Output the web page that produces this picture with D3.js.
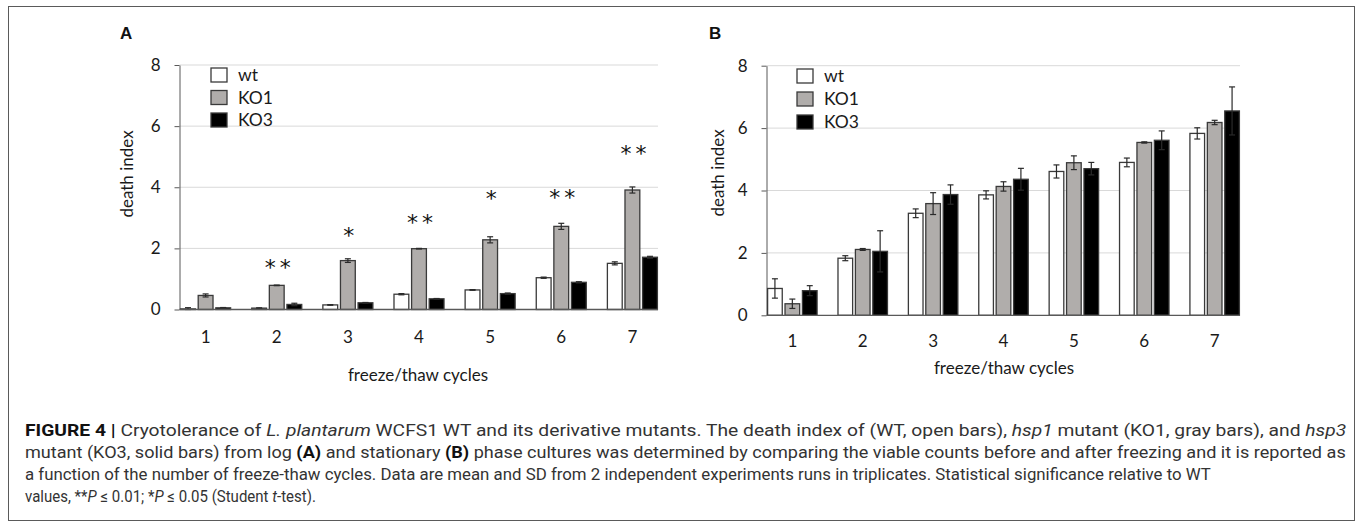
<!DOCTYPE html>
<html>
<head>
<meta charset="utf-8">
<script src="https://cdn.jsdelivr.net/npm/d3@7"></script>
<style>
  body { margin: 0; background: #fff; }
  svg text { font-family: Lato, "Open Sans", sans-serif; }
  .cap text { font-family: Roboto, "Liberation Sans", sans-serif; white-space: pre; }
</style>
</head>
<body>
<svg id="fig" width="1360" height="525"></svg>
<script>
// ---- data ----
const cycles = ["1", "2", "3", "4", "5", "6", "7"];
const seriesNames = ["wt", "KO1", "KO3"];
const yTicks = [0, 2, 4, 6, 8];

// log-phase cultures (A)
const logWt     = [0.02, 0.045, 0.15, 0.50, 0.64, 1.04, 1.51];
const logWtSd   = [0.04, 0.01, 0.01, 0.02, 0.01, 0.02, 0.05];
const logKo1    = [0.46, 0.79, 1.60, 1.99, 2.28, 2.72, 3.91];
const logKo1Sd  = [0.05, 0.01, 0.06, 0.01, 0.10, 0.10, 0.10];
const logKo3    = [0.055, 0.165, 0.22, 0.35, 0.52, 0.89, 1.71];
const logKo3Sd  = [0.01, 0.04, 0.01, 0.01, 0.02, 0.02, 0.03];
const logSig      = ["", "**", "*", "**", "*", "**", "**"];
const logSigLevel = [null, 1.52, 2.57, 2.99, 3.78, 3.81, 5.25];

// stationary-phase cultures (B)
const statWt    = [0.86, 1.83, 3.27, 3.86, 4.61, 4.90, 5.83];
const statWtSd  = [0.31, 0.08, 0.14, 0.13, 0.21, 0.14, 0.18];
const statKo1   = [0.37, 2.11, 3.58, 4.13, 4.89, 5.54, 6.18];
const statKo1Sd = [0.15, 0.03, 0.35, 0.15, 0.22, 0.02, 0.07];
const statKo3   = [0.79, 2.05, 3.87, 4.36, 4.70, 5.61, 6.55];
const statKo3Sd = [0.16, 0.66, 0.31, 0.35, 0.20, 0.30, 0.77];

const fills = { wt: "#ffffff", KO1: "#b0adab", KO3: "#000000" };
const svg = d3.select("#fig");

// outer frame
svg.append("rect")
  .attr("x", 8.5).attr("y", 6.5).attr("width", 1346).attr("height", 514)
  .attr("fill", "none").attr("stroke", "#5a5a5a").attr("stroke-width", 1);

function drawPanel(cfg) {
  const g = svg.append("g");
  const rows = cycles.map((c, i) => ({
    cycle: c,
    vals: [
      { key: "wt",  v: cfg.wt[i],  sd: cfg.wtSd[i] },
      { key: "KO1", v: cfg.ko1[i], sd: cfg.ko1Sd[i] },
      { key: "KO3", v: cfg.ko3[i], sd: cfg.ko3Sd[i] }
    ]
  }));

  const x = d3.scaleBand().domain(cycles).range([cfg.x0, cfg.x1])
    .paddingInner(0.28).paddingOuter(0);
  const xs = d3.scaleBand().domain(seriesNames).range([0, x.bandwidth()])
    .paddingInner(0.09);
  const y = d3.scaleLinear().domain([0, 8]).range([cfg.yBase, cfg.yTop]);

  // gridlines
  g.append("g").selectAll("line").data(yTicks.filter(d => d > 0)).join("line")
    .attr("x1", cfg.axisX).attr("x2", cfg.x1)
    .attr("y1", d => y(d)).attr("y2", d => y(d))
    .attr("stroke", "#d9d9d9").attr("stroke-width", 1);

  // y axis
  const ya = g.append("g").attr("transform", `translate(${cfg.axisX},0)`)
    .call(d3.axisLeft(y).tickValues(yTicks).tickSize(5).tickSizeOuter(0).tickPadding(14));
  ya.select(".domain").attr("stroke", "#595959");
  ya.selectAll(".tick line").attr("stroke", "#595959");
  ya.selectAll(".tick text").attr("font-size", 17).attr("fill", "#1a1a1a");

  // bars
  const grp = g.append("g").selectAll("g").data(rows).join("g")
    .attr("transform", d => `translate(${x(d.cycle)},0)`);
  grp.selectAll("rect").data(d => d.vals).join("rect")
    .attr("x", d => xs(d.key) + 0.6)
    .attr("width", xs.bandwidth() - 1.2)
    .attr("y", d => y(d.v))
    .attr("height", d => y(0) - y(d.v))
    .attr("fill", d => fills[d.key])
    .attr("stroke", "#3a3a3a").attr("stroke-width", 1.3);

  // error bars
  const eb = grp.selectAll("g.err").data(d => d.vals).join("g").attr("class", "err")
    .attr("transform", d => `translate(${xs(d.key) + xs.bandwidth() / 2},0)`)
    .attr("stroke", "#2a2a2a").attr("stroke-width", 1.2);
  eb.append("line").attr("x1", 0).attr("x2", 0)
    .attr("y1", d => y(Math.max(0, d.v - d.sd))).attr("y2", d => y(d.v + d.sd));
  eb.append("line").attr("x1", -3).attr("x2", 3)
    .attr("y1", d => y(d.v + d.sd)).attr("y2", d => y(d.v + d.sd));
  eb.append("line").attr("x1", -3).attr("x2", 3)
    .attr("y1", d => y(Math.max(0, d.v - d.sd))).attr("y2", d => y(Math.max(0, d.v - d.sd)));

  // x axis baseline + labels
  const xa = g.append("g").attr("transform", `translate(0,${cfg.yBase})`)
    .call(d3.axisBottom(x).tickSize(0).tickPadding(cfg.xPad));
  xa.select(".domain").attr("stroke", "#595959").attr("stroke-width", 1.3)
    .attr("d", `M${cfg.axisX},0H${cfg.x1}`);
  xa.selectAll(".tick text").attr("font-size", 17).attr("fill", "#1a1a1a");

  // significance marks
  if (cfg.sig) {
    g.append("g").selectAll("text").data(cycles.map((c, i) => ({ c, s: cfg.sig[i], l: cfg.sigLevel[i] }))
      .filter(d => d.s)).join("text")
      .attr("x", d => x(d.c) + x.bandwidth() / 2 + 3)
      .attr("y", d => y(d.l) + 12)
      .attr("text-anchor", "middle")
      .style("font-family", "'DejaVu Sans', sans-serif")
      .attr("font-size", 22).attr("letter-spacing", 4).attr("fill", "#111")
      .text(d => d.s);
  }

  // axis titles
  g.append("text").attr("x", cfg.xTitleX).attr("y", cfg.xTitleY)
    .attr("text-anchor", "middle").attr("font-size", 17).attr("fill", "#1a1a1a")
    .text("freeze/thaw cycles");
  g.append("text")
    .attr("transform", `translate(${cfg.yTitleX},${cfg.yTitleY}) rotate(-90)`)
    .attr("text-anchor", "middle").attr("font-size", 17).attr("fill", "#1a1a1a")
    .text("death index");

  // legend
  const lg = g.append("g").selectAll("g").data(seriesNames).join("g")
    .attr("transform", (d, i) => `translate(${cfg.legX},${cfg.legY + i * cfg.legStep})`);
  lg.append("rect").attr("x", 0).attr("y", -7).attr("width", 16).attr("height", 14)
    .attr("fill", d => fills[d]).attr("stroke", "#3a3a3a").attr("stroke-width", 1.3);
  lg.append("text").attr("x", 27).attr("y", 6).attr("font-size", 17.5).attr("fill", "#1a1a1a")
    .text(d => d);

  // panel letter
  g.append("text").attr("x", cfg.letterX).attr("y", 39)
    .style("font-family", "'Liberation Sans', Arial, sans-serif")
    .attr("font-weight", 700).attr("font-size", 17).attr("fill", "#111")
    .text(cfg.letter);
}

drawPanel({
  letter: "A", letterX: 120,
  wt: logWt, wtSd: logWtSd, ko1: logKo1, ko1Sd: logKo1Sd, ko3: logKo3, ko3Sd: logKo3Sd,
  sig: logSig, sigLevel: logSigLevel,
  axisX: 179.5, x0: 180, x1: 658, yBase: 309.5, yTop: 65, xPad: 21,
  xTitleX: 418, xTitleY: 381, yTitleX: 133, yTitleY: 174,
  legX: 211, legY: 75, legStep: 22.5
});
drawPanel({
  letter: "B", letterX: 709,
  wt: statWt, wtSd: statWtSd, ko1: statKo1, ko1Sd: statKo1Sd, ko3: statKo3, ko3Sd: statKo3Sd,
  axisX: 766.5, x0: 767, x1: 1240, yBase: 315.3, yTop: 65.7, xPad: 20,
  xTitleX: 1004, xTitleY: 374, yTitleX: 724, yTitleY: 173,
  legX: 797, legY: 76, legStep: 23
});

// ---- caption ----
const capLines = [
  { y: 436, w: 1322, parts: [["FIGURE 4 |", "b"], [" Cryotolerance of "], ["L. plantarum", "i"],
    [" WCFS1 WT and its derivative mutants. The death index of (WT, open bars), "], ["hsp1", "i"],
    [" mutant (KO1, gray bars), and "], ["hsp3", "i"]] },
  { y: 458, w: 1322, parts: [["mutant (KO3, solid bars) from log "], ["(A)", "b"], [" and stationary "], ["(B)", "b"],
    [" phase cultures was determined by comparing the viable counts before and after freezing and it is reported as"]] },
  { y: 480, w: 1187, parts: [["a function of the number of freeze-thaw cycles. Data are mean and SD from 2 independent experiments runs in triplicates. Statistical significance relative to WT"]] },
  { y: 502, w: 291, parts: [["values, **"], ["P", "i"], [" \u2264 0.01; *"], ["P", "i"], [" \u2264 0.05 (Student "], ["t", "i"], ["-test)."]] }
];
const cap = svg.append("g").attr("class", "cap");
capLines.forEach(line => {
  const t = cap.append("text").attr("font-size", 16.5).attr("fill", "#333");
  line.parts.forEach(([s, st]) => {
    const sp = t.append("tspan").text(s);
    if (st === "b") sp.attr("font-weight", 700).attr("fill", "#111");
    if (st === "i") sp.attr("font-style", "italic");
  });
  const w = t.node().getComputedTextLength();
  t.attr("transform", `translate(25,${line.y}) scale(${line.w / w},1)`);
});
</script>
</body>
</html>
